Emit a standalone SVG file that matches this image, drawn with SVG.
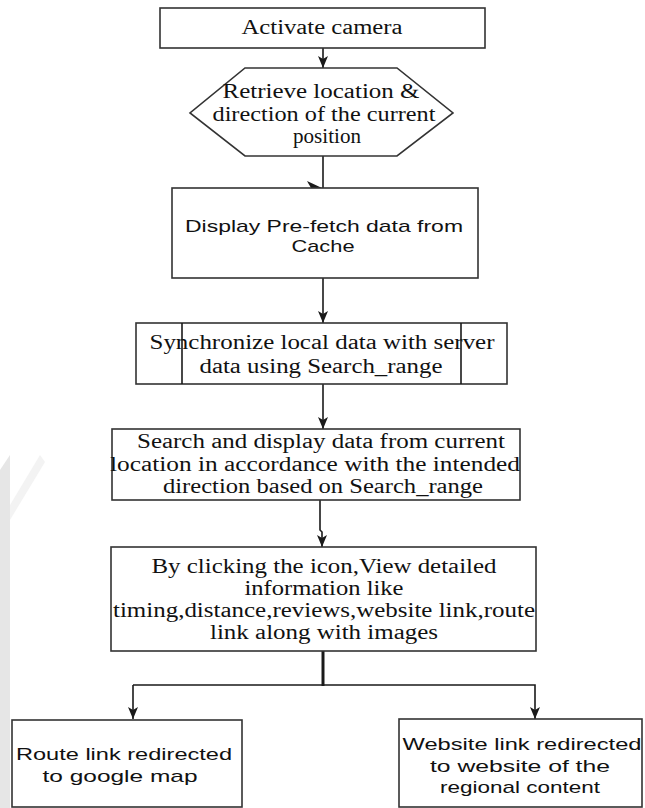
<svg xmlns="http://www.w3.org/2000/svg" width="645" height="808" viewBox="0 0 645 808">
<style>
.box{fill:#fff;stroke:#333;stroke-width:1.6}
.ln{fill:none;stroke:#1a1a1a;stroke-width:1.6}
.serif{font-family:"Liberation Serif","Times New Roman",serif;font-size:20px;fill:#111;text-anchor:middle}
.sans{font-family:"Liberation Sans",Arial,sans-serif;font-size:17px;fill:#111;text-anchor:middle}
</style>
<defs>
<marker id="ah" markerUnits="userSpaceOnUse" markerWidth="12" markerHeight="12" viewBox="0 0 12 12" refX="12" refY="6" orient="auto">
<path d="M0,1 L12,6 L0,11 L3,6 Z" fill="#1a1a1a"/>
</marker>
</defs>
<rect x="0" y="0" width="645" height="808" fill="#fff"/>
<g id="watermark">
<polygon points="0,470 10,455 10,808 0,808" fill="#e6e6e6"/>
<polygon points="10,505 40,455 45,462 10,520" fill="#f3f3f3"/>
</g>
<g id="connectors">
<line class="ln" x1="323" y1="48" x2="323" y2="68" marker-end="url(#ah)"/>
<line class="ln" x1="323" y1="156" x2="323" y2="188"/>
<polygon points="307,181 322,188 311,188" fill="#1a1a1a"/>
<line class="ln" x1="323" y1="278" x2="323" y2="323" marker-end="url(#ah)"/>
<line class="ln" x1="323" y1="384" x2="323" y2="429" marker-end="url(#ah)"/>
<polyline class="ln" points="320,500 320,530 322,532 322,547" marker-end="url(#ah)"/>
<line x1="323" y1="651" x2="323" y2="686" stroke="#1a1a1a" stroke-width="3"/>
<polyline class="ln" points="133,685 535,685 535,719" marker-end="url(#ah)"/>
<line class="ln" x1="133" y1="685" x2="133" y2="719" marker-end="url(#ah)"/>
</g>
<g id="n1">
<rect class="box" x="160" y="8" width="325" height="40"/>
<text class="serif" x="322" y="34" font-size="21" textLength="161" lengthAdjust="spacingAndGlyphs">Activate camera</text>
</g>
<g id="n2">
<polygon class="box" points="245,68 397,68 453,113 397,156 245,156 190,113"/>
<text class="serif" x="321" y="98" font-size="19" textLength="197" lengthAdjust="spacingAndGlyphs">Retrieve location &amp;</text>
<text class="serif" x="324" y="121" font-size="19" textLength="223" lengthAdjust="spacingAndGlyphs">direction of the current</text>
<text class="serif" x="327" y="143" font-size="19" textLength="68" lengthAdjust="spacingAndGlyphs">position</text>
</g>
<g id="n3">
<rect class="box" x="172" y="188" width="306" height="90"/>
<text class="sans" x="324" y="232" textLength="278" lengthAdjust="spacingAndGlyphs">Display Pre-fetch data from</text>
<text class="sans" x="323" y="252" textLength="63" lengthAdjust="spacingAndGlyphs">Cache</text>
</g>
<g id="n4">
<rect class="box" x="136" y="323" width="371" height="61"/>
<line class="ln" x1="182" y1="323" x2="182" y2="384"/>
<line class="ln" x1="461" y1="323" x2="461" y2="384"/>
<text class="serif" x="322" y="349" textLength="345" lengthAdjust="spacingAndGlyphs">Synchronize local data with server</text>
<text class="serif" x="321" y="373" textLength="243" lengthAdjust="spacingAndGlyphs">data using Search_range</text>
</g>
<g id="n5">
<rect class="box" x="112" y="429" width="408" height="71" stroke="#555" stroke-width="2"/>
<text class="serif" x="321" y="448" textLength="368" lengthAdjust="spacingAndGlyphs">Search and display data from current</text>
<text class="serif" x="315" y="471" textLength="410" lengthAdjust="spacingAndGlyphs">location in accordance with the intended</text>
<text class="serif" x="323" y="493" textLength="320" lengthAdjust="spacingAndGlyphs">direction based on Search_range</text>
</g>
<g id="n6">
<rect class="box" x="111" y="547" width="425" height="104" stroke="#555" stroke-width="2"/>
<text class="serif" x="324" y="573" textLength="345" lengthAdjust="spacingAndGlyphs">By clicking the icon,View detailed</text>
<text class="serif" x="324" y="595" textLength="159" lengthAdjust="spacingAndGlyphs">information like</text>
<text class="serif" x="324" y="617" textLength="422" lengthAdjust="spacingAndGlyphs">timing,distance,reviews,website link,route</text>
<text class="serif" x="324" y="639" textLength="228" lengthAdjust="spacingAndGlyphs">link along with images</text>
</g>
<g id="n7">
<rect class="box" x="12" y="720" width="230" height="87"/>
<text class="sans" x="124" y="760" textLength="216" lengthAdjust="spacingAndGlyphs">Route link redirected</text>
<text class="sans" x="120" y="782" textLength="155" lengthAdjust="spacingAndGlyphs">to google map</text>
</g>
<g id="n8">
<rect class="box" x="399" y="719" width="243" height="88"/>
<text class="sans" x="522" y="750" textLength="239" lengthAdjust="spacingAndGlyphs">Website link redirected</text>
<text class="sans" x="520" y="772" textLength="180" lengthAdjust="spacingAndGlyphs">to website of the</text>
<text class="sans" x="520" y="793" textLength="160" lengthAdjust="spacingAndGlyphs">regional content</text>
</g>
</svg>
